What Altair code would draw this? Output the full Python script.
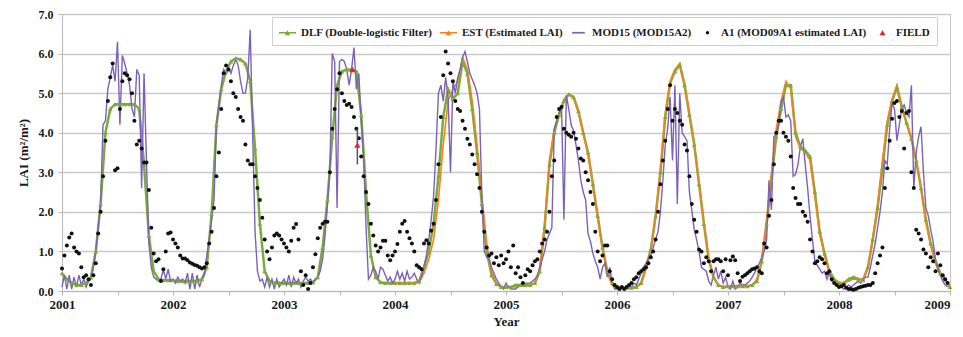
import altair as alt
import pandas as pd

N_DLF = "DLF (Double-logistic Filter)"
N_EST = "EST (Estimated LAI)"
N_MOD = "MOD15 (MOD15A2)"
N_A1 = "A1 (MOD09A1 estimated LAI)"
N_FIELD = "FIELD"
SERIES = [N_DLF, N_EST, N_MOD, N_A1, N_FIELD]
COLORS = ["#7aac3c", "#f5821f", "#7c62b6", "#111111", "#e3262b"]
# legend glyphs (unit-square SVG paths): line+marker, line, dot, triangle
LINE_MARKER = "M-1,-0.09H1V0.09H-1Z M-0.32,0.3L0,-0.3L0.32,0.3Z"
LINE_ONLY = "M-0.75,-0.1H0.75V0.1H-0.75Z"
DOT = "M-0.2,0A0.2,0.2 0 1,0 0.2,0A0.2,0.2 0 1,0 -0.2,0Z"
TRIANGLE = "M-0.35,0.3L0,-0.32L0.35,0.3Z"
LEGEND_SHAPES = [LINE_MARKER, LINE_MARKER, LINE_ONLY, DOT, TRIANGLE]

YEAR_TICKS = [2001, 2001.5, 2002, 2002.5, 2003, 2003.5, 2004, 2004.5, 2005,
              2005.5, 2006, 2006.5, 2007, 2007.5, 2008, 2008.5, 2009]
LAI_TICKS = [0, 1, 2, 3, 4, 5, 6, 7]

# DLF: 16-day values per year (23 per year)
DLF = {
    2001: [0.45, 0.3, 0.2, 0.15, 0.15, 0.2, 0.35, 1.0, 2.2, 4.0, 4.6, 4.72, 4.72, 4.72, 4.72, 4.72, 4.6, 3.2, 1.4, 0.5, 0.3, 0.27, 0.27],
    2002: [0.27, 0.25, 0.25, 0.25, 0.25, 0.25, 0.3, 0.6, 1.95, 4.2, 5.1, 5.55, 5.8, 5.88, 5.85, 5.75, 5.3, 3.6, 1.7, 0.5, 0.25, 0.2, 0.2],
    2003: [0.2, 0.2, 0.2, 0.2, 0.2, 0.2, 0.22, 0.35, 1.1, 2.3, 3.9, 5.2, 5.55, 5.6, 5.6, 5.55, 4.45, 2.5, 0.9, 0.35, 0.22, 0.2, 0.2],
    2004: [0.2, 0.2, 0.2, 0.2, 0.2, 0.25, 0.6, 1.0, 1.7, 2.9, 4.4, 5.1, 4.85, 5.0, 5.8, 5.5, 4.6, 3.5, 2.2, 1.0, 0.4, 0.18, 0.1],
    2005: [0.1, 0.1, 0.15, 0.15, 0.15, 0.15, 0.2, 0.5, 1.6, 3.2, 4.0, 4.45, 4.8, 4.97, 4.9, 4.55, 4.0, 3.5, 2.7, 1.9, 1.1, 0.5, 0.2],
    2006: [0.1, 0.08, 0.08, 0.08, 0.1, 0.2, 0.6, 1.05, 1.9, 3.0, 4.4, 5.25, 5.55, 5.72, 5.2, 4.45, 3.7, 2.7, 1.7, 0.8, 0.35, 0.15, 0.1],
    2007: [0.12, 0.12, 0.12, 0.12, 0.12, 0.15, 0.25, 0.75, 1.7, 2.8, 3.9, 4.6, 5.2, 5.2, 4.0, 3.65, 3.55, 3.4, 2.5, 1.5, 0.95, 0.5, 0.3],
    2008: [0.2, 0.2, 0.3, 0.35, 0.3, 0.28, 0.6, 1.3, 2.1, 3.1, 4.2, 4.8, 5.15, 4.65, 4.25, 3.85, 3.3, 2.6, 1.8, 1.2, 0.75, 0.45, 0.3],
}
DLF_END = 0.1

# EST: 16-day values per year (23 per year)
EST = {
    2004: [0.2, 0.2, 0.2, 0.2, 0.2, 0.22, 0.45, 0.8, 1.3, 2.3, 3.7, 4.8, 5.1, 5.3, 5.9, 5.6, 4.8, 3.7, 2.4, 1.2, 0.5, 0.18, 0.1],
    2005: [0.1, 0.1, 0.1, 0.12, 0.12, 0.15, 0.2, 0.55, 1.7, 3.3, 4.1, 4.5, 4.85, 4.97, 4.88, 4.5, 4.0, 3.45, 2.7, 1.85, 1.05, 0.45, 0.15],
    2006: [0.1, 0.08, 0.08, 0.08, 0.1, 0.18, 0.55, 1.0, 1.85, 3.1, 4.5, 5.3, 5.6, 5.75, 5.25, 4.5, 3.75, 2.75, 1.75, 0.85, 0.35, 0.15, 0.1],
    2007: [0.12, 0.12, 0.12, 0.12, 0.12, 0.15, 0.3, 0.8, 1.8, 3.0, 4.1, 4.8, 5.3, 5.1, 3.9, 3.6, 3.5, 3.3, 2.4, 1.45, 0.9, 0.45, 0.25],
    2008: [0.2, 0.2, 0.25, 0.3, 0.3, 0.3, 0.6, 1.35, 2.2, 3.3, 4.3, 4.85, 5.2, 4.7, 4.25, 3.85, 3.3, 2.6, 1.75, 1.15, 0.7, 0.4, 0.25],
}
EST_END = 0.1

# MOD15: 8-day values per year (46 per year)
MOD15 = {
    2001: [0.1, 0.4, 0.05, 0.4, 0.05, 0.35, 0.1, 0.4, 0.15, 0.3, 0.1, 0.25, 0.3, 0.6, 1.0, 1.6, 2.2, 4.2, 4.3, 5.1,
           5.4, 5.7, 5.3, 6.3, 4.2, 5.95, 5.75, 5.5, 5.2, 4.6, 4.4, 5.6, 5.45, 2.6, 5.5, 3.3, 1.2, 0.6, 0.35, 0.3,
           0.25, 0.3, 0.55, 0.3, 0.55, 0.25],
    2002: [0.3, 0.2, 0.35, 0.25, 0.3, 0.2, 0.45, 0.05, 0.45, 0.05, 0.4, 0.1, 0.3, 0.4, 0.9, 1.3, 1.8, 2.3, 4.2, 4.7,
           5.2, 5.6, 5.5, 5.65, 5.5, 5.7, 5.85, 5.7, 5.3, 5.0, 5.0, 5.4, 6.6, 4.0, 1.5, 0.5, 0.25, 0.3, 0.1, 0.35,
           0.1, 0.3, 0.05, 0.3, 0.1, 0.2],
    2003: [0.3, 0.15, 0.4, 0.1, 0.35, 0.2, 0.3, 0.1, 0.25, 0.35, 0.25, 0.3, 0.2, 0.3, 0.35, 0.5, 0.8, 1.4, 2.2, 3.0,
           6.0, 5.8, 2.1, 5.8, 5.85, 5.8, 5.6, 5.2, 5.6, 6.15, 5.1, 5.5, 4.3, 3.4, 1.6, 0.3, 0.4, 0.6, 0.5, 0.3,
           0.6, 0.55, 0.4, 0.25, 0.35, 0.2],
    2004: [0.3, 0.5, 0.3, 0.45, 0.25, 0.5, 0.3, 0.35, 0.45, 0.3, 0.2, 0.35, 0.6, 0.9, 1.3, 1.8, 2.4, 3.6, 5.0, 5.2,
           4.8, 5.4, 4.9, 3.0, 5.3, 5.0, 5.4, 5.6, 5.9, 6.05, 5.8, 5.5, 5.35, 5.2, 5.0, 4.6, 2.4, 1.0, 0.85, 0.8,
           0.6, 0.45, 0.3, 0.2, 0.1, 0.05],
    2005: [0.2, 0.1, 0.05, 0.05, 0.05, 0.1, 0.15, 0.2, 0.2, 0.2, 0.2, 0.25, 0.3, 0.4, 0.6, 0.8, 1.0, 1.3, 1.45, 1.6,
           4.1, 4.3, 4.5, 4.7, 1.8, 4.95, 4.6, 4.2, 4.05, 3.7, 3.3, 2.8, 2.5, 2.3, 1.45, 1.25, 0.95, 0.75, 0.6, 0.3,
           0.6, 0.7, 0.35, 0.6, 0.2, 0.05],
    2006: [0.05, 0.05, 0.1, 0.05, 0.1, 0.15, 0.1, 0.2, 0.15, 0.3, 0.45, 0.6, 0.7, 0.8, 0.9, 1.1, 1.3, 1.5, 2.0, 2.8,
           3.7, 4.1, 4.9, 3.3, 5.2, 2.2, 5.0, 4.0, 3.9, 3.8, 2.5, 2.05, 1.55, 1.3, 1.0, 0.6, 0.55, 0.5, 0.25, 0.15,
           0.4, 0.6, 0.3, 0.5, 0.2, 0.35],
    2007: [0.1, 0.05, 0.25, 0.05, 0.1, 0.2, 0.15, 0.15, 0.2, 0.25, 0.35, 0.45, 0.6, 0.7, 0.85, 1.0, 1.3, 2.8, 2.05, 3.9,
           3.95, 4.2, 4.8, 4.9, 4.4, 4.45, 4.3, 2.9, 2.95, 3.2, 3.65, 3.85, 3.2, 2.6, 1.9, 1.3, 0.75, 0.65, 0.55, 0.45,
           0.5, 0.3, 0.45, 0.25, 0.2, 0.15],
    2008: [0.1, 0.1, 0.05, 0.1, 0.15, 0.1, 0.15, 0.2, 0.25, 0.2, 0.3, 0.35, 0.35, 0.6, 0.9, 1.2, 1.6, 2.0, 2.5, 3.3,
           3.2, 4.1, 4.75, 4.6, 3.8, 4.2, 4.6, 4.7, 4.5, 4.4, 5.2, 2.6, 3.5, 3.9, 4.15, 3.0, 2.1, 1.9, 1.55, 1.25,
           0.8, 0.55, 0.4, 0.25, 0.15, 0.1],
}

# A1: 8-day values per year (46 per year)
A1 = {
    2001: [0.57, 0.9, 1.15, 1.35, 1.45, 1.1, 1.0, 0.95, 0.6, 0.35, 0.4, 0.3, 0.15, 0.4, 0.7, 1.45, 2.0, 2.9, 3.8, 4.8,
           5.4, 5.75, 3.05, 3.1, 4.6, 5.3, 5.5, 5.45, 5.35, 5.0, 4.3, 3.7, 3.8, 3.6, 3.25, 3.25, 2.55, 1.6, 0.95, 0.75,
           0.8, 0.25, 0.55, 1.0, 1.45, 1.48],
    2002: [1.3, 1.2, 1.1, 0.9, 0.82, 0.82, 0.78, 0.72, 0.69, 0.66, 0.64, 0.6, 0.57, 0.6, 0.7, 1.2, 1.5, 2.1, 2.9, 3.5,
           4.6, 5.5, 5.7, 5.6, 5.3, 5.0, 4.9, 4.6, 4.4, 4.3, 3.7, 3.3, 3.2, 3.2, 2.9, 2.6, 2.3, 1.85, 1.3, 1.0,
           0.8, 1.1, 1.4, 1.45, 1.4, 1.3],
    2003: [1.2, 1.1, 1.0, 1.27, 1.6, 1.69, 1.3, 0.5, 0.15, 0.4, 0.05, 0.2, 0.6, 0.93, 1.33, 1.6, 1.7, 1.75, 1.75, 3.0,
           4.1, 4.6, 5.1, 5.5, 5.0, 4.8, 4.7, 4.73, 4.65, 4.4, 4.1, 3.86, 3.4, 2.9, 2.5, 2.2, 1.7, 1.4, 1.15, 1.0,
           1.1, 1.27, 1.27, 0.9, 0.78, 0.9],
    2004: [1.0, 1.19, 1.5, 1.7, 1.77, 1.5, 1.33, 1.2, 1.0, 0.65, 0.6, 0.55, 1.2, 1.28, 1.2, 1.52, 1.7, 2.3, 3.2, 4.4,
           5.45, 6.05, 5.75, 5.5, 5.3, 4.8, 4.6, 4.55, 4.3, 4.1, 3.85, 3.7, 3.45, 3.2, 2.95, 2.6, 2.0, 1.5, 1.1, 0.9,
           0.95, 0.7, 0.85, 0.65, 0.9, 0.7],
    2005: [0.8, 1.0, 0.6, 1.15, 0.45, 0.6, 0.35, 0.2, 0.4, 0.55, 0.5, 0.65, 0.75, 0.8, 1.0, 1.2, 1.3, 1.5, 2.0, 2.9,
           3.3, 4.4, 4.6, 4.65, 4.1, 4.0, 3.95, 3.9, 4.0, 3.85, 3.6, 3.35, 3.3, 3.0, 2.8, 2.5, 2.2, 1.5, 1.0, 0.75,
           0.9, 1.15, 1.15, 0.5, 0.3, 0.15],
    2006: [0.1, 0.05, 0.1, 0.05, 0.1, 0.15, 0.2, 0.3, 0.35, 0.45, 0.5, 0.55, 0.6, 0.7, 0.85, 1.0, 1.3, 2.0, 2.7, 3.3,
           3.8, 4.6, 5.2, 4.3, 4.6, 4.5, 4.3, 4.2, 3.7, 3.55, 2.9, 2.2, 1.8, 1.5, 1.05, 1.0, 0.7, 0.85, 0.75, 0.5,
           0.75, 0.8, 0.8, 0.75, 0.5, 0.8],
    2007: [0.4, 0.78, 0.87, 0.78, 0.45, 0.25, 0.36, 0.4, 0.45, 0.5, 0.55, 0.57, 0.6, 0.5, 0.45, 1.2, 1.1, 1.9, 2.3, 3.2,
           4.0, 4.3, 4.3, 4.0, 3.9, 3.8, 3.4, 2.6, 2.35, 2.2, 2.2, 2.0, 1.9, 1.75, 1.3, 1.0, 0.7, 0.75, 0.85, 0.8,
           0.7, 0.45, 0.5, 0.3, 0.2, 0.15],
    2008: [0.1, 0.12, 0.15, 0.08, 0.05, 0.05, 0.03, 0.05, 0.08, 0.1, 0.12, 0.13, 0.15, 0.15, 0.2, 0.45, 0.7, 0.9, 1.1, 2.6,
           3.1, 3.8, 4.35, 4.75, 4.8, 4.4, 4.55, 3.6, 4.5, 4.55, 3.0, 2.6, 1.55, 1.45, 1.3, 1.05, 0.95, 0.6, 0.85, 0.75,
           0.5, 0.95, 0.65, 0.4, 0.3, 0.2],
}

FIELD_T = [2003.616, 2003.661]
FIELD_V = [5.6, 3.69]
FIELD_LO = [5.55, 3.2]
FIELD_HI = [5.65, 4.1]


def frame(d, per_year, name, end=None):
    rows = []
    for yr, vals in d.items():
        for i, v in enumerate(vals):
            rows.append({"t": yr + i / per_year, "v": v, "series": name})
    if end is not None:
        rows.append({"t": 2009.0, "v": end, "series": name})
    return pd.DataFrame(rows)


df_dlf = frame(DLF, 23, N_DLF, DLF_END)
df_est = frame(EST, 23, N_EST, EST_END)
df_mod = frame(MOD15, 46, N_MOD)
df_a1 = frame(A1, 46, N_A1)
df_field = pd.DataFrame({"t": FIELD_T, "v": FIELD_V, "series": N_FIELD})
df_err = pd.DataFrame({"t": FIELD_T, "v": FIELD_LO, "v2": FIELD_HI})
df_legend = pd.DataFrame({"series": SERIES})

FONT = "Liberation Serif"

x_enc = alt.X(
    "t:Q",
    scale=alt.Scale(domain=[2001, 2009], nice=False, zero=False),
    axis=alt.Axis(values=YEAR_TICKS, grid=False, title="Year",
                  labelExpr="datum.value % 1 == 0 ? format(datum.value, 'd') : ''",
                  labelAlign={"condition": {"test": "datum.value == 2009", "value": "right"}, "value": "center"},
                  tickSize=4, labelPadding=3, titlePadding=4, labelFlush=False,
                  labelFontSize=13),
)
y_enc = alt.Y(
    "v:Q",
    scale=alt.Scale(domain=[0, 7], nice=False),
    axis=alt.Axis(values=LAI_TICKS, format=".1f", grid=True, title="LAI (m²/m²)",
                  tickSize=4, labelPadding=5, titlePadding=8, labelFontSize=12),
)

legend = alt.Legend(
    title=None, orient="none", legendX=210, legendY=3, direction="horizontal", columns=5,
    columnPadding=7, padding=7, fillColor="white", strokeColor="#d0d0d0",
    labelFont=FONT, labelFontWeight="bold", labelFontSize=11, labelColor="#1a1a1a",
    labelLimit=0, labelOffset=5, symbolSize=289, symbolStrokeWidth=0, symbolOpacity=1,
)
color_scale = alt.Scale(domain=SERIES, range=COLORS)
c_enc = alt.Color("series:N", scale=color_scale, legend=legend)

# legend-only layer (no marks drawn: data filtered out, scales keep the full domain)
legend_layer = alt.Chart(df_legend).mark_point(filled=True, strokeWidth=0).encode(
    color=c_enc,
    shape=alt.Shape("series:N", scale=alt.Scale(domain=SERIES, range=LEGEND_SHAPES), legend=legend),
).transform_filter("false")

dlf_line = alt.Chart(df_dlf).mark_line(strokeWidth=2.5).encode(x=x_enc, y=y_enc, color=c_enc)
est_line = alt.Chart(df_est).mark_line(strokeWidth=1.6).encode(x=x_enc, y=y_enc, color=c_enc)
mod_line = alt.Chart(df_mod).mark_line(strokeWidth=1.4).encode(x=x_enc, y=y_enc, color=c_enc)
dlf_pts = alt.Chart(df_dlf).mark_point(shape="triangle-up", filled=True, size=22, opacity=1).encode(
    x=x_enc, y=y_enc, color=c_enc)
a1_pts = alt.Chart(df_a1).mark_point(shape="circle", filled=True, size=16, opacity=1).encode(
    x=x_enc, y=y_enc, color=c_enc)
field_err = alt.Chart(df_err).mark_rule(color="#555555", strokeWidth=1.5).encode(
    x=x_enc, y=y_enc, y2="v2:Q")
field_pts = alt.Chart(df_field).mark_point(shape="triangle-up", filled=True, size=40, opacity=1).encode(
    x=x_enc, y=y_enc, color=c_enc)

chart = alt.layer(legend_layer, dlf_line, est_line, mod_line, dlf_pts, a1_pts, field_err, field_pts).properties(
    width=888, height=277, autosize=alt.AutoSizeParams(type="none"),
    padding={"left": 54, "top": 6, "right": 5, "bottom": 38},
    background="white",
).configure_view(stroke="#c4c4c4", strokeWidth=1).configure_axis(
    labelFont=FONT, titleFont=FONT, labelFontWeight="bold", titleFontWeight="bold",
    labelColor="#1a1a1a", titleColor="#1a1a1a", titleFontSize=13,
    domainColor="#b8b8b8", tickColor="#b8b8b8", gridColor="#cacaca", gridWidth=1.5,
)

chart.save("out.html", embed_options={"renderer": "svg", "actions": False})
